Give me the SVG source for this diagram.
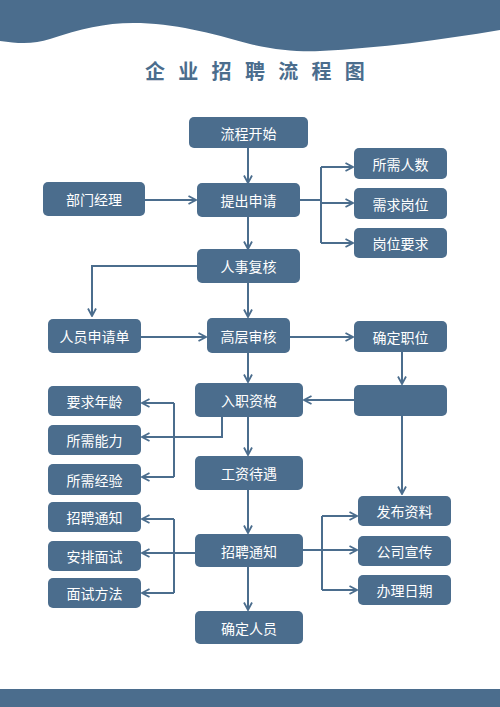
<svg xmlns="http://www.w3.org/2000/svg" width="500" height="707" viewBox="0 0 500 707">
<style>
.n rect{fill:#4b6d8d;}
.n text{fill:#ffffff;font-family:"Noto Sans CJK SC","Noto Sans",sans-serif;font-size:14px;text-anchor:middle;dominant-baseline:central;}
.c path{fill:none;stroke:#4b6d8d;stroke-width:2;}
.a{marker-end:url(#ah);}
</style>
<defs>
<marker id="ah" viewBox="0 0 10 10" refX="9" refY="5" markerWidth="5" markerHeight="5" orient="auto" markerUnits="strokeWidth">
<polyline points="1.5,1 9,5 1.5,9" fill="none" stroke="#4b6d8d" stroke-width="1.8"/>
</marker>
</defs>
<rect width="500" height="707" fill="#ffffff"/>
<path d="M0,41 C20,44 35,44 50,39 C80,29 105,23 133,23 C175,23 210,33 250,44 C275,50 300,52 320,51 C380,48 440,40 500,30 V0 H0 Z" fill="#4b6d8d"/>
<rect x="0" y="689" width="500" height="18" fill="#4b6d8d"/>
<text x="145" y="79" font-family="Noto Sans CJK SC,sans-serif" font-size="20" font-weight="bold" letter-spacing="13.3" fill="#4b6d8d">企业招聘流程图</text>

<g class="c">
<path class="a" d="M248,148 V183"/>
<path class="a" d="M145,200 H196"/>
<path d="M300,200 H321 M321,167 V243"/>
<path class="a" d="M321,167 H353"/>
<path class="a" d="M321,203 H353"/>
<path class="a" d="M321,243 H353"/>
<path class="a" d="M248,217 V249"/>
<path class="a" d="M197,266 H92 V316"/>
<path class="a" d="M248,283 V317"/>
<path class="a" d="M141,337 H206"/>
<path class="a" d="M290,337 H353"/>
<path class="a" d="M402,352 V384"/>
<path class="a" d="M354,400 H304"/>
<path class="a" d="M248,353 V382"/>
<path class="a" d="M248,417 V455"/>
<path class="a" d="M222,417 V437 H142"/>
<path d="M174,403 V477"/>
<path class="a" d="M174,403 H142"/>
<path class="a" d="M174,477 H142"/>
<path class="a" d="M402,416 V494"/>
<path class="a" d="M248,490 V533"/>
<path d="M303,550 H322 M322,516 V590"/>
<path class="a" d="M322,516 H357"/>
<path class="a" d="M322,550 H357"/>
<path class="a" d="M322,590 H357"/>
<path class="a" d="M195,553 H142"/>
<path d="M174,519 V593"/>
<path class="a" d="M174,519 H142"/>
<path class="a" d="M174,593 H142"/>
<path class="a" d="M248,567 V610"/>
</g>

<g id="n1" class="n"><rect x="189" y="117" width="119" height="31" rx="5"/><text x="248.5" y="132.5">流程开始</text></g>
<g id="n2" class="n"><rect x="197" y="183" width="103" height="34" rx="5"/><text x="248.5" y="200">提出申请</text></g>
<g id="n3" class="n"><rect x="43" y="182" width="102" height="34" rx="5"/><text x="94" y="199">部门经理</text></g>
<g id="n4" class="n"><rect x="354" y="148" width="93" height="31" rx="5"/><text x="400.5" y="163.5">所需人数</text></g>
<g id="n5" class="n"><rect x="354" y="188" width="93" height="31" rx="5"/><text x="400.5" y="203.5">需求岗位</text></g>
<g id="n6" class="n"><rect x="354" y="228" width="93" height="30" rx="5"/><text x="400.5" y="243">岗位要求</text></g>
<g id="n7" class="n"><rect x="197" y="249" width="103" height="34" rx="5"/><text x="248.5" y="266">人事复核</text></g>
<g id="n8" class="n"><rect x="48" y="319" width="93" height="34" rx="5"/><text x="94.5" y="336">人员申请单</text></g>
<g id="n9" class="n"><rect x="207" y="318" width="83" height="35" rx="5"/><text x="248.5" y="335.5">高层审核</text></g>
<g id="n10" class="n"><rect x="354" y="321" width="93" height="31" rx="5"/><text x="400.5" y="336.5">确定职位</text></g>
<g id="n11" class="n"><rect x="354" y="385" width="93" height="31" rx="5"/></g>
<g id="n12" class="n"><rect x="195" y="383" width="108" height="34" rx="5"/><text x="249" y="400">入职资格</text></g>
<g id="n13" class="n"><rect x="48" y="386" width="93" height="30" rx="5"/><text x="94.5" y="401">要求年龄</text></g>
<g id="n14" class="n"><rect x="48" y="425" width="93" height="30" rx="5"/><text x="94.5" y="440">所需能力</text></g>
<g id="n15" class="n"><rect x="48" y="464" width="93" height="31" rx="5"/><text x="94.5" y="479.5">所需经验</text></g>
<g id="n16" class="n"><rect x="195" y="456" width="108" height="34" rx="5"/><text x="249" y="473">工资待遇</text></g>
<g id="n17" class="n"><rect x="358" y="496" width="93" height="30" rx="5"/><text x="404.5" y="511">发布资料</text></g>
<g id="n18" class="n"><rect x="358" y="536" width="93" height="30" rx="5"/><text x="404.5" y="551">公司宣传</text></g>
<g id="n19" class="n"><rect x="358" y="575" width="93" height="30" rx="5"/><text x="404.5" y="590">办理日期</text></g>
<g id="n20" class="n"><rect x="195" y="534" width="108" height="33" rx="5"/><text x="249" y="550.5">招聘通知</text></g>
<g id="n21" class="n"><rect x="48" y="502" width="93" height="30" rx="5"/><text x="94.5" y="517">招聘通知</text></g>
<g id="n22" class="n"><rect x="48" y="541" width="93" height="30" rx="5"/><text x="94.5" y="556">安排面试</text></g>
<g id="n23" class="n"><rect x="48" y="578" width="93" height="30" rx="5"/><text x="94.5" y="593">面试方法</text></g>
<g id="n24" class="n"><rect x="195" y="611" width="108" height="33" rx="5"/><text x="249" y="627.5">确定人员</text></g>
</svg>
